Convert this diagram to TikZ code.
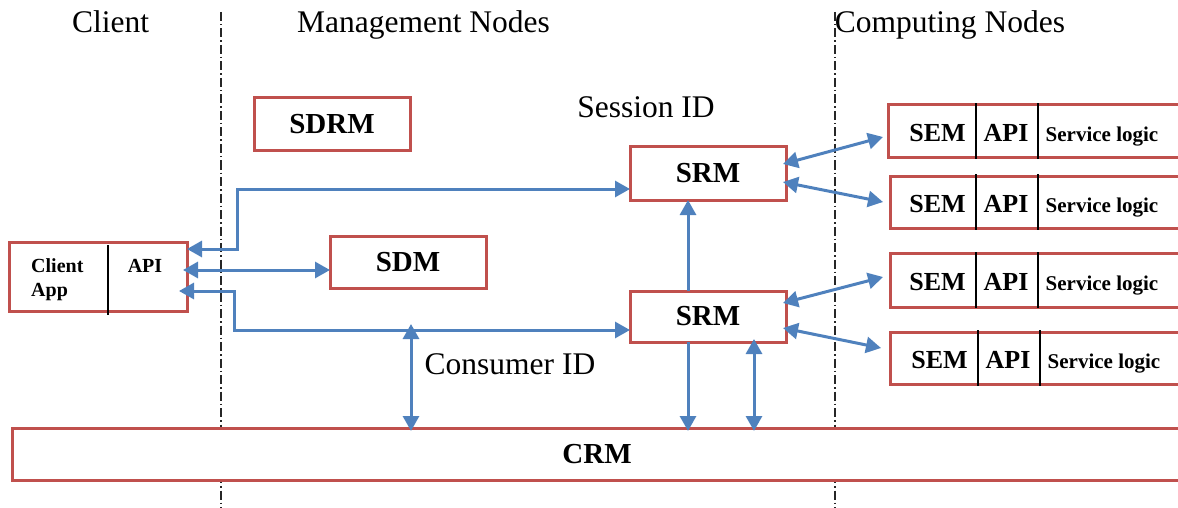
\documentclass[tikz,border=0pt]{standalone}
\usepackage{fontspec}
\setmainfont{Liberation Serif}
\usetikzlibrary{arrows.meta}
\definecolor{BoxRed}{RGB}{192,80,77}
\definecolor{LinkBlue}{RGB}{79,129,189}

\begin{document}
\begin{tikzpicture}[x=1pt, y=-1pt,
    >={Triangle[length=15pt,width=16pt]},
    box/.style={draw=BoxRed, line width=3pt, fill=white, inner sep=0pt,
      outer sep=0pt, font=\bfseries\fontsize{29}{34}\selectfont},
    link/.style={LinkBlue, line width=3pt},
    zone/.style={black!85, line width=1.3pt,
      dash pattern=on 9pt off 3pt on 1.5pt off 3pt},
    head/.style={inner sep=0pt, anchor=base, font=\fontsize{31.5}{36}\selectfont},
    small/.style={inner sep=0pt, anchor=base, font=\bfseries\fontsize{20}{24}\selectfont},
    semtag/.style={inner sep=0pt, anchor=base, font=\bfseries\fontsize{26}{30}\selectfont},
    logic/.style={inner sep=0pt, anchor=base, font=\bfseries\fontsize{21}{25}\selectfont}]

  \useasboundingbox (0,0) rectangle (1178,508);
  \clip (0,0) rectangle (1178,508);

  % -------------------------------------------------------
  % Zone separators and headings
  % -------------------------------------------------------
  \draw[zone] (221,12) -- (221,508);
  \draw[zone] (835,12) -- (835,508);

  \node[head] (hclient) at (110.5,33) {Client};
  \node[head] (hmgmt)   at (423.5,33) {Management Nodes};
  \node[head] (hcomp)   at (950,33)   {Computing Nodes};

  % -------------------------------------------------------
  % Client side
  % -------------------------------------------------------
  \node[box, minimum width=178pt, minimum height=69pt] (client) at (98,276.5) {};
  \draw[black, line width=2.2pt] (108,245) -- (108,315);
  \node[small, anchor=base west] (clientA) at (31,272) {Client};
  \node[small, anchor=base west] (clientB) at (31,296) {App};
  \node[small] (clientapi) at (145,272) {API};

  % -------------------------------------------------------
  % Management nodes
  % -------------------------------------------------------
  \node[box, minimum width=156pt, minimum height=53pt] (sdrm) at (332,124.5) {SDRM};
  \node[box, minimum width=156pt, minimum height=52pt] (sdm)  at (408,262)   {SDM};
  \node[box, minimum width=156pt, minimum height=53pt] (srmA) at (708,173.5) {SRM};
  \node[box, minimum width=156pt, minimum height=51pt] (srmB) at (708,316.5) {SRM};

  % CRM runs off the right edge
  \node[box, minimum width=1170pt, minimum height=52pt] (crm) at (597,454) {CRM};

  \node[head] (sid) at (646,118) {Session ID};
  \node[head] (cidlabel) at (510,374) {Consumer ID};

  % -------------------------------------------------------
  % Computing nodes: SEM | API | Service logic
  % -------------------------------------------------------
  \foreach \n/\xl/\yc/\h/\xd in {1/888/131.5/53/976, 2/890/202/52/976,
                                 3/890/280/54/976, 4/890/358/52/978} {
    \node[box, anchor=west, minimum width=300pt, minimum height=\h pt]
      (sem\n) at (\xl,\yc) {};
    \draw[black, line width=1.4pt] (\xd,\yc-28) -- (\xd,\yc+28);
    \draw[black, line width=1.4pt] (\xd+62,\yc-28) -- (\xd+62,\yc+28);
    \node[semtag] (sem\n-tag)   at (\xd-38.5,\yc+10) {SEM};
    \node[semtag] (sem\n-api)   at (\xd+30,\yc+10)   {API};
    \node[logic]  (sem\n-logic) at (\xd+126,\yc+10)  {Service logic};
  }

  % -------------------------------------------------------
  % Links
  % -------------------------------------------------------
  % client <-> upper SRM
  \draw[link, <->] ([yshift=27.5pt]client.east) -- ++(50,0)
    |- ([yshift=-15.5pt]srmA.west);
  % client <-> SDM
  \draw[link, <->] ([xshift=-4pt,yshift=6.5pt]client.east)
    -- ([yshift=-8pt]sdm.west);
  % client <-> lower SRM
  \draw[link, <->] ([xshift=-8pt,yshift=-14.5pt]client.east) -- ++(55,0)
    |- ([yshift=-13.5pt]srmB.west);

  % consumer ID lookup down to CRM
  \coordinate (cid) at (411,330);
  \draw[link, <->, shorten <=-6pt, shorten >=-3pt] (cid) -- (cid |- crm.north);

  % lower SRM -> upper SRM, lower SRM -> CRM
  \draw[link, ->] ([xshift=-20pt]srmB.north) -- ([xshift=-20pt]srmA.south);
  \draw[link, ->, shorten >=-3pt] ([xshift=-20pt]srmB.south)
    -- ([xshift=-20pt]srmB.south |- crm.north);
  \draw[link, <->, shorten <=-3pt, shorten >=-3pt] ([xshift=46pt]srmB.south)
    -- ([xshift=46pt]srmB.south |- crm.north);

  % SRM <-> SEM
  \draw[link, <->] ([xshift=-3pt,yshift=9.5pt]srmA.east)
    -- ([xshift=-5pt,yshift=-5.5pt]sem1.west);
  \draw[link, <->] ([xshift=-3pt,yshift=-8.5pt]srmA.east)
    -- ([xshift=-7pt]sem2.west);
  \draw[link, <->] ([xshift=-3pt,yshift=13.5pt]srmB.east)
    -- ([xshift=-7pt,yshift=3pt]sem3.west);
  \draw[link, <->] ([xshift=-3pt,yshift=-11.5pt]srmB.east)
    -- ([xshift=-9pt,yshift=10pt]sem4.west);

\end{tikzpicture}
\end{document}
